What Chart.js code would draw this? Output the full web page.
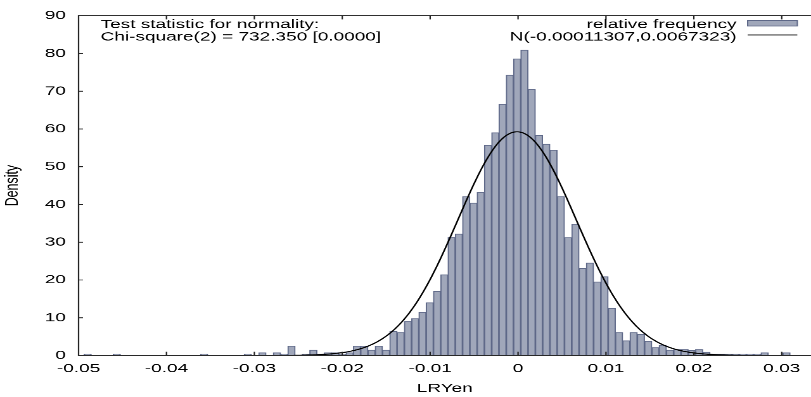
<!DOCTYPE html>
<html>
<head>
<meta charset="utf-8">
<title>LRYen frequency distribution</title>
<style>
  html, body { margin: 0; padding: 0; background: #fff; overflow: hidden; }
  /* the plot was made at 640x480 and then resized to 811x397, so everything is stretched */
  #wrap { width: 640px; height: 480px; transform: scale(1.26719, 0.82708); transform-origin: 0 0; }
</style>
<script src="https://cdn.jsdelivr.net/npm/chart.js@4.4.0/dist/chart.umd.min.js"></script>
</head>
<body>
<div id="wrap"><canvas id="chart" width="640" height="480"></canvas></div>
<script>
// histogram bins: centre of the first bin and bin width
const firstBinCenter = -0.048966;
const binWidth = 0.0008282;

// relative frequency (density) per bin, left to right
const density = [
  0.36, 0, 0, 0, 0.36, 0, 0, 0, 0, 0,
  0, 0, 0, 0, 0, 0, 0.36, 0, 0, 0,
  0, 0, 0.36, 0, 0.72, 0, 0.72, 0.36, 2.5, 0,
  0.36, 1.44, 0.36, 0.72, 0.72, 0.36, 0.72, 2.5, 2.5, 1.44,
  2.5, 1.44, 6.4, 6.1, 9.0, 9.8, 11.5, 14.0, 17.0, 21.4,
  31.3, 32.2, 42.1, 40.4, 43.2, 55.7, 59.0, 66.6, 74.3, 78.6,
  80.9, 70.5, 58.3, 56.0, 54.4, 42.1, 31.2, 34.8, 23.1, 24.5,
  19.5, 20.9, 12.5, 6.1, 3.9, 6.1, 5.6, 3.8, 2.1, 2.75,
  1.44, 1.6, 1.6, 1.3, 1.6, 0.9, 0.36, 0.36, 0.36, 0.36,
  0.36, 0.36, 0.36, 0.72, 0, 0, 0.72
];

// fitted normal from the legend
const normMean = -0.00011307;
const normSd = 0.0067323;

const xMin = -0.05, xMax = 0.03333;
const yMin = 0, yMax = 90;

const testTitle = "Test statistic for normality:";
const testStat = "Chi-square(2) = 732.350 [0.0000]";
const histLabel = "relative frequency";
const normLabel = "N(-0.00011307,0.0067323)";

const barFill = "rgb(160,167,186)";
const barEdge = "rgb(94,104,136)";
const FONT = { family: "'Liberation Sans', Arial, sans-serif", size: 15 };

const bars = density.map((v, i) => ({ x: firstBinCenter + i * binWidth, y: v }));

const curve = [];
for (let x = xMin; x <= xMax + 1e-9; x += 0.0002) {
  const z = (x - normMean) / normSd;
  curve.push({ x, y: Math.exp(-0.5 * z * z) / (normSd * Math.sqrt(2 * Math.PI)) });
}

// frame, inward ticks and the legend / test text, drawn the gnuplot way
const framePlugin = {
  id: "frame",
  afterDatasetsDraw(chart) {
    const { ctx, chartArea: a, scales: { x, y } } = chart;
    ctx.save();
    ctx.strokeStyle = "#222";
    ctx.lineWidth = 1.1;
    ctx.beginPath();
    ctx.moveTo(a.right + 2, a.top);
    ctx.lineTo(a.left, a.top);
    ctx.lineTo(a.left, a.bottom);
    ctx.lineTo(a.right + 2, a.bottom);
    x.ticks.forEach(t => {
      const px = x.getPixelForValue(t.value);
      ctx.moveTo(px, a.bottom); ctx.lineTo(px, a.bottom - 4.5);
      ctx.moveTo(px, a.top); ctx.lineTo(px, a.top + 4.5);
    });
    y.ticks.forEach(t => {
      const py = y.getPixelForValue(t.value);
      ctx.moveTo(a.left, py); ctx.lineTo(a.left + 3.5, py);
    });
    ctx.stroke();

    ctx.font = FONT.size + "px " + FONT.family;
    ctx.fillStyle = "#000";
    ctx.textBaseline = "alphabetic";
    ctx.textAlign = "left";
    ctx.fillText(testTitle, 79.4, 34.2);
    ctx.fillText(testStat, 79.4, 49.0);

    ctx.textAlign = "right";
    ctx.fillText(histLabel, 581.3, 34.2);
    ctx.fillText(normLabel, 581.3, 49.0);

    // legend keys
    ctx.fillStyle = barFill;
    ctx.fillRect(590, 25, 39.2, 6.4);
    ctx.strokeStyle = barEdge;
    ctx.lineWidth = 1;
    ctx.strokeRect(590, 25, 39.2, 6.4);
    ctx.strokeStyle = "#000";
    ctx.beginPath();
    ctx.moveTo(590, 42.3); ctx.lineTo(629.2, 42.3);
    ctx.stroke();
    ctx.restore();
  }
};

new Chart(document.getElementById("chart"), {
  type: "bar",
  data: {
    datasets: [
      {
        type: "line",
        label: normLabel,
        data: curve,
        borderColor: "#000",
        borderWidth: 1.3,
        pointRadius: 0,
        tension: 0,
        order: 0
      },
      {
        type: "bar",
        label: histLabel,
        data: bars,
        backgroundColor: barFill,
        borderColor: barEdge,
        borderWidth: 1,
        borderSkipped: false,
        barPercentage: 1,
        categoryPercentage: 1,
        order: 1
      }
    ]
  },
  options: {
    responsive: false,
    animation: false,
    devicePixelRatio: 2,
    layout: { padding: { top: 15.1, right: 0, bottom: 0, left: 0 } },
    plugins: { legend: { display: false }, tooltip: { enabled: false } },
    scales: {
      x: {
        type: "linear",
        min: xMin,
        max: xMax,
        offset: false,
        grid: { display: false, drawTicks: false },
        border: { display: false },
        ticks: {
          stepSize: 0.01,
          includeBounds: false,
          autoSkip: false,
          maxRotation: 0,
          padding: 7,
          color: "#000",
          font: FONT,
          callback: v => String(+(+v).toFixed(2))
        },
        title: { display: true, text: "LRYen", color: "#000", font: FONT, padding: { top: 1, bottom: 1 } },
        afterFit: s => { s.height = 50.2; }
      },
      y: {
        min: yMin,
        max: yMax,
        grid: { display: false, drawTicks: false },
        border: { display: false },
        ticks: { stepSize: 10, padding: 10, color: "#000", font: FONT },
        title: { display: true, text: "Density", color: "#000", font: FONT, padding: { top: 1, bottom: 1 } },
        afterFit: s => { s.width = 62; }
      }
    }
  },
  plugins: [framePlugin]
});
</script>
</body>
</html>
